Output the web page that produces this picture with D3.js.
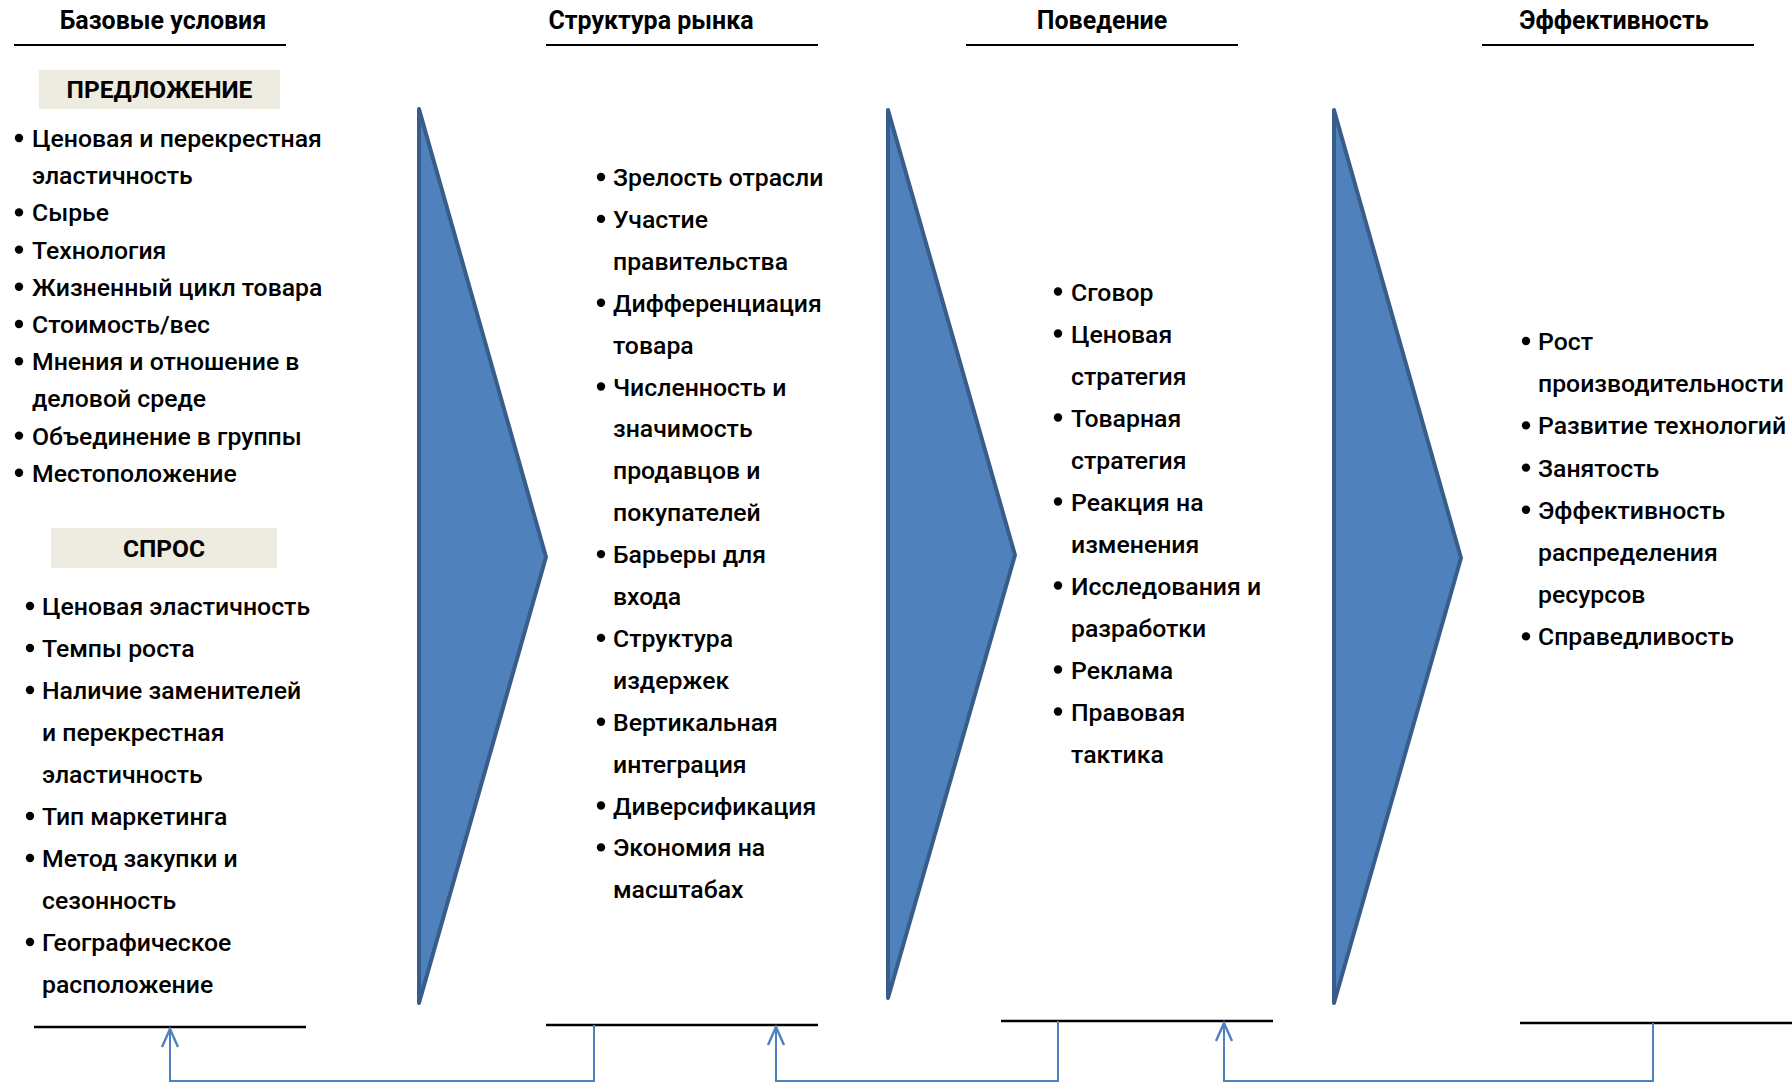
<!DOCTYPE html>
<html><head><meta charset="utf-8">
<script src="https://cdn.jsdelivr.net/npm/d3@7"></script>
<style>
html,body{margin:0;padding:0;background:#fff;}
svg{display:block;}
text{font-family:Roboto,"Noto Sans",sans-serif;fill:#000;}
</style></head>
<body>
<svg id="c" width="1792" height="1083"></svg>
<script>
// ---- data ----
const headers = ["Базовые условия", "Структура рынка", "Поведение", "Эффективность"];
const boxLabels = ["ПРЕДЛОЖЕНИЕ", "СПРОС"];
const supplyItems = [
  ["Ценовая и перекрестная", "эластичность"],
  ["Сырье"],
  ["Технология"],
  ["Жизненный цикл товара"],
  ["Стоимость/вес"],
  ["Мнения и отношение в", "деловой среде"],
  ["Объединение в группы"],
  ["Местоположение"]
];
const demandItems = [
  ["Ценовая эластичность"],
  ["Темпы роста"],
  ["Наличие заменителей", "и перекрестная", "эластичность"],
  ["Тип маркетинга"],
  ["Метод закупки и", "сезонность"],
  ["Географическое", "расположение"]
];
const structureItems = [
  ["Зрелость отрасли"],
  ["Участие", "правительства"],
  ["Дифференциация", "товара"],
  ["Численность и", "значимость", "продавцов и", "покупателей"],
  ["Барьеры для", "входа"],
  ["Структура", "издержек"],
  ["Вертикальная", "интеграция"],
  ["Диверсификация"],
  ["Экономия на", "масштабах"]
];
const conductItems = [
  ["Сговор"],
  ["Ценовая", "стратегия"],
  ["Товарная", "стратегия"],
  ["Реакция на", "изменения"],
  ["Исследования и", "разработки"],
  ["Реклама"],
  ["Правовая", "тактика"]
];
const performanceItems = [
  ["Рост", "производительности"],
  ["Развитие технологий"],
  ["Занятость"],
  ["Эффективность", "распределения", "ресурсов"],
  ["Справедливость"]
];

// ---- layout ----
const svg = d3.select("#c");
const blue = "#4f81bd", blueDark = "#385d8a";

const cols = [
  {cx:163, x0:14, x1:286},
  {cx:651, x0:546, x1:818},
  {cx:1102, x0:966, x1:1238},
  {cx:1614, x0:1482, x1:1754}
];
svg.selectAll("text.hdr").data(headers).join("text")
  .attr("class","hdr")
  .attr("x",(d,i)=>cols[i].cx).attr("y",29)
  .attr("text-anchor","middle")
  .style("font-size","25px").style("font-weight","bold")
  .text(d=>d);
svg.selectAll("line.hdr").data(cols).join("line")
  .attr("x1",d=>d.x0).attr("x2",d=>d.x1).attr("y1",45).attr("y2",45)
  .attr("stroke","#000").attr("stroke-width",2);

const boxes = [
  {x:39, y:70, w:241, h:39},
  {x:51, y:528, w:226, h:40}
];
boxes.forEach((b,i)=>{
  svg.append("rect").attr("x",b.x).attr("y",b.y).attr("width",b.w).attr("height",b.h)
    .attr("fill","#eeece1");
  svg.append("text").attr("x",b.x+b.w/2).attr("y",b.y+b.h/2+8.5)
    .attr("text-anchor","middle").style("font-size","24.5px").style("font-weight","bold")
    .text(boxLabels[i]);
});

function drawList(items, bx, tx, y0, step){
  const lines = [];
  items.forEach(it=>it.forEach((t,j)=>lines.push({t, first:j===0})));
  const y = d3.scaleLinear().domain([0,1]).range([y0, y0+step]);
  const g = svg.append("g");
  lines.forEach((l,i)=>{
    if(l.first) g.append("circle").attr("cx",bx).attr("cy",y(i)).attr("r",4.2).attr("fill","#000");
    g.append("text").attr("x",tx).attr("y",y(i)+9).style("font-size","24.8px")
      .style("font-weight","500").text(l.t);
  });
}
drawList(supplyItems, 19, 32, 138, 37.2);
drawList(demandItems, 30, 42, 606, 42);
drawList(structureItems, 601, 613, 177, 41.9);
drawList(conductItems, 1058, 1071, 291.5, 42);
drawList(performanceItems, 1526, 1538, 341, 42.2);

const tris = [
  {x:419, top:109, bot:1003, tip:546, ty:557},
  {x:888, top:110, bot:998, tip:1015, ty:555},
  {x:1334, top:110, bot:1003, tip:1461, ty:558}
];
const lineGen = d3.line();
tris.forEach(t=>{
  svg.append("path").attr("d", lineGen([[t.x,t.top],[t.tip,t.ty],[t.x,t.bot]])+"Z")
    .attr("fill",blue).attr("stroke",blueDark).attr("stroke-width",4).attr("stroke-linejoin","round");
});

const bots = [
  {x0:34, x1:306, y:1027},
  {x0:546, x1:818, y:1025},
  {x0:1001, x1:1273, y:1021},
  {x0:1520, x1:1792, y:1023}
];
bots.forEach(b=>svg.append("line").attr("x1",b.x0).attr("x2",b.x1).attr("y1",b.y).attr("y2",b.y)
  .attr("stroke","#000").attr("stroke-width",2.5));

const fb = [
  {from:594, fromY:1025, to:170, toY:1027},
  {from:1058, fromY:1021, to:776, toY:1025},
  {from:1653, fromY:1023, to:1224, toY:1021}
];
const yb = 1081;
fb.forEach(f=>{
  svg.append("path").attr("d", lineGen([[f.from,f.fromY],[f.from,yb],[f.to,yb],[f.to,f.toY+2]]))
    .attr("fill","none").attr("stroke",blue).attr("stroke-width",2);
  svg.append("path").attr("d", lineGen([[f.to-8,f.toY+20],[f.to,f.toY+2],[f.to+8,f.toY+20]]))
    .attr("fill","none").attr("stroke",blue).attr("stroke-width",2.4);
});
</script>
</body></html>
